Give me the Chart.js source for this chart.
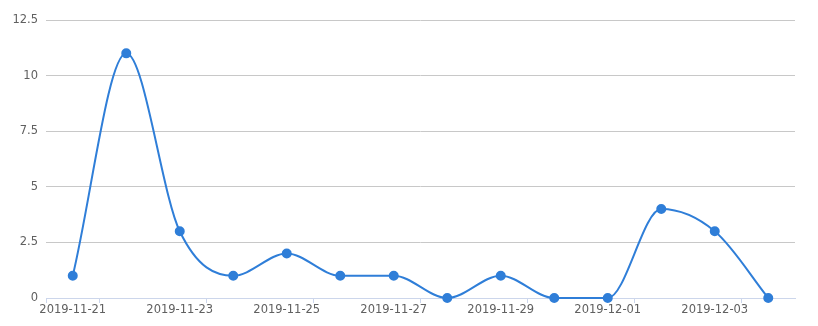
<!DOCTYPE html>
<html>
<head>
<meta charset="utf-8">
<script src="https://cdn.jsdelivr.net/npm/chart.js@4/dist/chart.umd.min.js"></script>
<style>
    html, body { margin: 0; padding: 0; background: #fff; }
    #wrap { width: 818px; height: 326px; position: relative; }
</style>
</head>
<body>
<div id="wrap"><canvas id="chart1"></canvas></div>
<script>
// Du lieu
const days = ['2019-11-21', '2019-11-22', '2019-11-23', '2019-11-24', '2019-11-25', '2019-11-26', '2019-11-27',
    '2019-11-28', '2019-11-29', '2019-11-30', '2019-12-01', '2019-12-02', '2019-12-03', '2019-12-04']
const counts = [1, 11, 3, 1, 2, 1, 1, 0, 1, 0, 0, 4, 3, 0]
const yTicks = [0, 2.5, 5, 7.5, 10, 12.5]

const ctx = document.getElementById('chart1').getContext('2d');

const chart1 = new Chart(ctx, {
    type: 'line',
    data: {
        labels: days,
        datasets: [{
            data: counts,
            borderColor: '#2f7ed8',
            backgroundColor: '#2f7ed8',
            borderWidth: 2,
            pointRadius: 4,
            pointHoverRadius: 5,
            cubicInterpolationMode: 'monotone',
            clip: false
        }]
    },
    options: {
        responsive: true,
        maintainAspectRatio: false,
        animation: false,
        layout: { padding: { top: 20, right: 23, left: 0, bottom: 0 } },
        plugins: {
            legend: { display: false },
            tooltip: { enabled: true }
        },
        scales: {
            x: {
                offset: true,
                afterFit: (scale) => { scale.height = 28 },
                grid: {
                    offset: true,
                    drawOnChartArea: false,
                    tickLength: 5,
                    color: (c) => (c.index === 0 || (c.index % 2 === 1 && c.index < days.length)) ? '#ccd6eb' : 'rgba(0,0,0,0)'
                },
                border: { color: '#ccd6eb' },
                ticks: {
                    autoSkip: false,
                    maxRotation: 0,
                    padding: 0,
                    color: '#606060',
                    font: { family: 'DejaVu Sans', size: 11.5 },
                    callback: function (val, i) { return i % 2 === 0 ? days[i] : '' }
                }
            },
            y: {
                min: 0,
                max: 12.5,
                afterFit: (scale) => { scale.width = 46 },
                afterBuildTicks: (scale) => { scale.ticks = yTicks.map(v => ({ value: v })) },
                grid: {
                    color: (c) => c.tick && c.tick.value === 0 ? 'rgba(0,0,0,0)' : '#c8c8c8',
                    drawTicks: false
                },
                border: { display: false },
                ticks: {
                    padding: 8,
                    color: '#606060',
                    font: { family: 'DejaVu Sans', size: 11.5 }
                }
            }
        }
    }
})
</script>
</body>
</html>
